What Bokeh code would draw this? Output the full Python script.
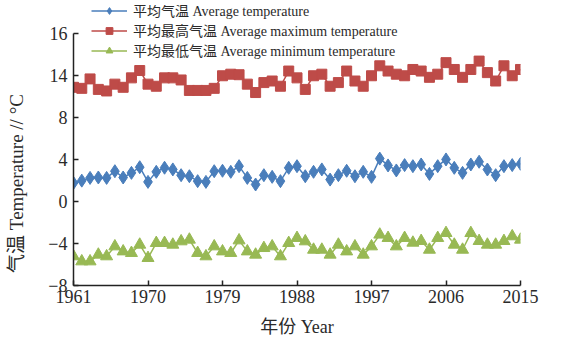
from bokeh.plotting import figure
from bokeh.models import FixedTicker, Range1d, Legend, LegendItem
from bokeh.embed import file_html
from bokeh.resources import INLINE

years = list(range(1961, 2016))
avg_temp = [1.78, 2.0, 2.26, 2.3, 2.26, 2.9, 2.3, 2.74, 3.28, 1.88,
            2.84, 3.23, 3.07, 2.52, 2.42, 1.95, 1.88, 2.9, 2.94, 2.84,
            3.38, 2.26, 1.63, 2.52, 2.36, 1.95, 3.22, 3.38, 2.42, 2.84,
            3.07, 2.1, 2.52, 2.94, 2.42, 2.84, 2.36, 4.1, 3.45, 2.97,
            3.48, 3.38, 3.54, 2.64, 3.38, 4.02, 3.22, 2.74, 3.54, 3.8,
            3.06, 2.52, 3.38, 3.48, 3.6]
max_temp = [10.9, 10.8, 11.7, 10.7, 10.55, 11.2, 10.9, 11.8, 12.5, 11.2,
            11.0, 11.8, 11.8, 11.6, 10.6, 10.6, 10.6, 10.8, 12.0, 12.15,
            12.1, 11.2, 10.4, 11.35, 11.5, 11.0, 12.45, 11.8, 10.7, 12.0,
            12.15, 11.0, 11.35, 12.45, 11.5, 11.0, 12.0, 12.95, 12.45, 12.15,
            12.0, 12.6, 12.45, 11.85, 12.15, 13.25, 12.6, 11.85, 12.6, 13.4,
            12.3, 11.5, 12.95, 12.0, 12.6]
min_temp = [-5.22, -5.7, -5.7, -5.06, -5.22, -4.27, -4.75, -4.9, -4.11, -5.38,
            -3.95, -3.95, -4.11, -3.79, -3.63, -4.9, -5.22, -4.27, -4.75, -4.9,
            -3.7, -4.75, -5.06, -4.43, -4.27, -5.22, -3.95, -3.47, -3.79, -4.59,
            -4.59, -5.06, -4.11, -4.75, -4.27, -5.06, -4.27, -3.15, -3.47, -4.27,
            -3.47, -3.92, -3.76, -4.59, -3.47, -3.0, -4.11, -4.59, -3.0, -3.76,
            -4.11, -4.11, -3.76, -3.31, -3.63]
x_ticks = [1961, 1970, 1979, 1988, 1997, 2006, 2015]
y_ticks = [-8, -4, 0, 4, 8, 12, 16]
y_tick_labels = {-8: "\u22128", -4: "\u22124", 0: "0", 4: "4", 8: "8", 12: "14", 16: "16"}
legend_labels = ["平均气温 Average temperature",
                 "平均最高气温 Average maximum temperature",
                 "平均最低气温 Average minimum temperature"]

FONT = "Liberation Serif, Noto Sans CJK SC"
TXT = "#2a2a2a"
BLUE, RED, GREEN = "#4a7ebb", "#be4b48", "#98b954"

p = figure(width=546, height=344, output_backend="svg", toolbar_location=None,
           x_range=Range1d(1961, 2015), y_range=Range1d(-8, 18.7),
           min_border_left=73, min_border_right=26, min_border_top=5, min_border_bottom=59)
p.outline_line_color = None
p.xgrid.visible = False
p.ygrid.visible = False
p.background_fill_color = "white"

r_avg_l = p.line(years, avg_temp, line_color=BLUE, line_width=1.5)
r_avg_m = p.scatter(years, avg_temp, marker="diamond", size=13, fill_color=BLUE, line_color=BLUE)
r_max_l = p.line(years, max_temp, line_color=RED, line_width=1.5)
r_max_m = p.scatter(years, max_temp, marker="square", size=10, fill_color=RED, line_color=RED)
r_min_l = p.line(years, min_temp, line_color=GREEN, line_width=1.5)
r_min_m = p.scatter(years, min_temp, marker="triangle", size=12, fill_color=GREEN, line_color=GREEN)

legend = Legend(items=[
    LegendItem(label=legend_labels[0], renderers=[r_avg_l, r_avg_m]),
    LegendItem(label=legend_labels[1], renderers=[r_max_l, r_max_m]),
    LegendItem(label=legend_labels[2], renderers=[r_min_l, r_min_m]),
], location=(18, 225))
legend.background_fill_alpha = 0
legend.border_line_color = None
legend.label_text_font = FONT
legend.label_text_font_size = "14px"
legend.label_text_color = TXT
legend.glyph_width = 36
legend.glyph_height = 17
legend.label_height = 17
legend.spacing = -5
legend.padding = 0
legend.margin = 0
legend.label_standoff = 6
p.add_layout(legend, "center")

for ax in (p.xaxis[0], p.yaxis[0]):
    ax.axis_line_width = 1.5
    ax.axis_line_color = "#222222"
    ax.major_tick_line_color = "#222222"
    ax.major_tick_line_width = 1.5
    ax.major_tick_in = 5
    ax.major_tick_out = 0
    ax.minor_tick_line_color = None
    ax.major_label_text_font = FONT
    ax.major_label_text_font_size = "18px"
    ax.major_label_text_color = TXT

p.xaxis.ticker = FixedTicker(ticks=x_ticks)
p.xaxis.major_label_standoff = 4
p.xaxis.axis_label = "年份 Year"
p.xaxis.axis_label_text_font = FONT
p.xaxis.axis_label_text_font_style = "normal"
p.xaxis.axis_label_text_font_size = "18px"
p.xaxis.axis_label_text_color = TXT
p.xaxis.axis_label_standoff = 11

p.yaxis.ticker = FixedTicker(ticks=y_ticks)
p.yaxis.bounds = (-8, 16)
p.yaxis.major_label_overrides = y_tick_labels
p.yaxis.major_label_standoff = 6
p.yaxis.axis_label = "气温 Temperature // °C\u2003\u2003\u2003\u2003"
p.yaxis.axis_label_text_font = FONT
p.yaxis.axis_label_text_font_style = "normal"
p.yaxis.axis_label_text_font_size = "19px"
p.yaxis.axis_label_text_color = TXT
p.yaxis.axis_label_standoff = 18

open("out.html", "w").write(file_html(p, INLINE))
